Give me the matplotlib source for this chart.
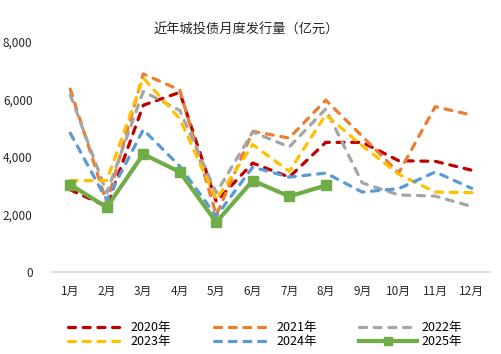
import matplotlib.pyplot as plt

plt.rcParams['font.family'] = ['Noto Sans CJK SC', 'DejaVu Sans']

# month labels
months = ['1月', '2月', '3月', '4月', '5月', '6月', '7月', '8月', '9月', '10月', '11月', '12月']

# monthly issuance, 亿元
y2020 = [2860, 2280, 5800, 6250, 2450, 3790, 3300, 4510, 4510, 3870, 3850, 3540]
y2021 = [6360, 2400, 6890, 6330, 1980, 4890, 4660, 5980, 4720, 3450, 5750, 5460]
y2022 = [6160, 2750, 6280, 5620, 2750, 4870, 4350, 5670, 3100, 2680, 2640, 2280]
y2023 = [3180, 3180, 6750, 5330, 2520, 4430, 3500, 5470, 4390, 3400, 2780, 2760]
y2024 = [4830, 2500, 4950, 3680, 1940, 3650, 3300, 3440, 2780, 2900, 3480, 2910]
y2025 = [3040, 2250, 4100, 3480, 1730, 3180, 2630, 3010]

years = ['2020年', '2021年', '2022年', '2023年', '2024年', '2025年']
colors = ['#C00000', '#ED7D31', '#A5A5A5', '#FFC000', '#5B9BD5', '#70AD47']

fig = plt.figure(figsize=(5.02, 3.54), dpi=100)
ax = fig.add_axes([0.1036, 0.2316, 0.8725, 0.6498])

x = list(range(len(months)))
dashed = [y2020, y2021, y2022, y2023, y2024]
handles = []
for vals, lab, col in zip(dashed, years[:5], colors[:5]):
    h, = ax.plot(x[:len(vals)], vals, color=col, lw=2.3, ls=(0, (2.2, 2.4)),
                 dash_capstyle='round', label=lab)
    handles.append(h)

h, = ax.plot(x[:len(y2025)], y2025, color=colors[5], lw=3, marker='s', ms=7.5,
             label=years[5])
handles.append(h)

ax.set_xlim(-0.5, 11.5)
ax.set_ylim(0, 8000)
ax.set_xticks(x)
ax.set_xticklabels(months)
ax.set_yticks([0, 2000, 4000, 6000, 8000])
ax.set_yticklabels(['0', '2,000', '4,000', '6,000', '8,000'])
ax.tick_params(axis='both', length=0, labelsize=8.5, colors='#262626')
ax.tick_params(axis='y', pad=14)
ax.tick_params(axis='x', pad=9)

for s in ['top', 'right', 'left']:
    ax.spines[s].set_visible(False)
ax.spines['bottom'].set_color('#D9D9D9')
ax.spines['bottom'].set_linewidth(1.2)

fig.text(0.49, 0.915, '近年城投债月度发行量（亿元）', ha='center', va='center',
         fontsize=9.5, color='#262626')

# legend fills column by column, so reorder to get rows 2020-2022 / 2023-2025
order = [0, 3, 1, 4, 2, 5]
fig.legend([handles[i] for i in order], [years[i] for i in order],
           loc='center', bbox_to_anchor=(0.528, 0.055), ncol=3, frameon=False,
           fontsize=9, handlelength=4.6, columnspacing=3.4, handletextpad=0.4,
           labelspacing=0.1, numpoints=1, markerscale=0.8)

fig.savefig('out.png', dpi=100)
